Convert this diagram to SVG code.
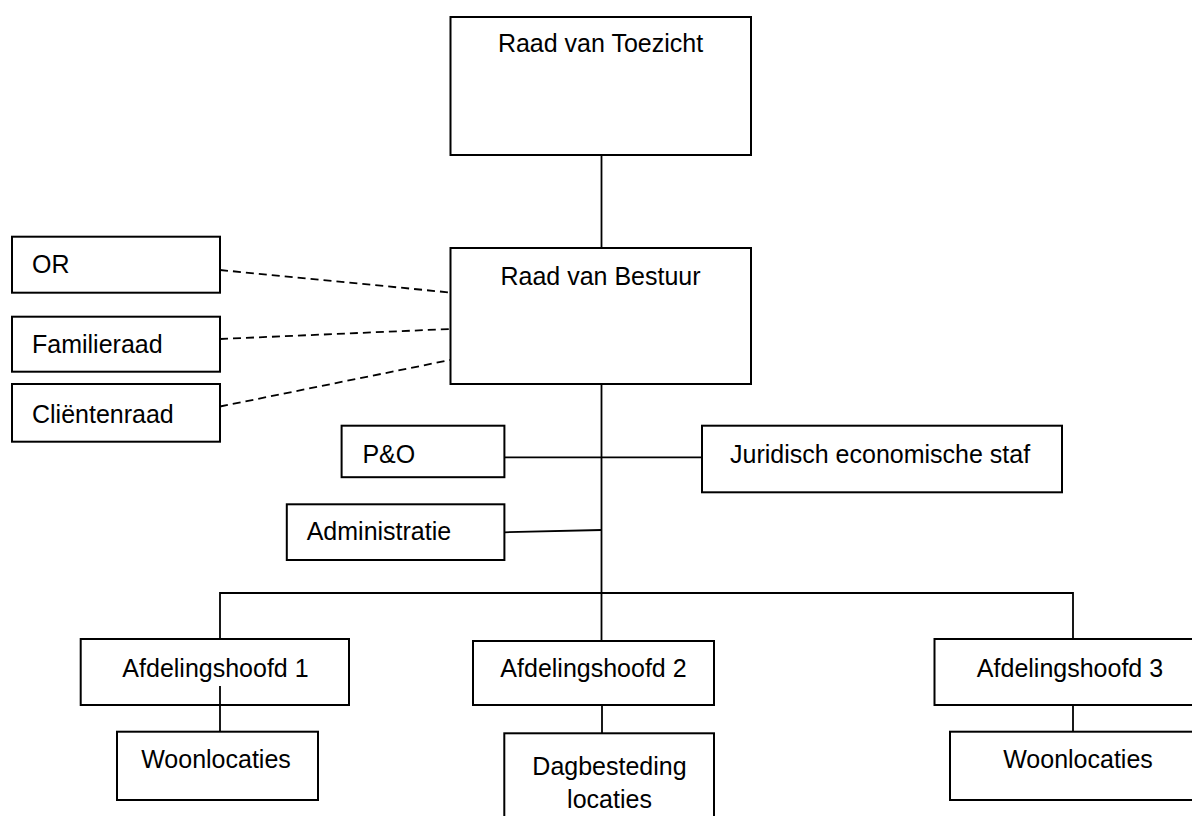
<svg xmlns="http://www.w3.org/2000/svg" width="1192" height="816" viewBox="0 0 1192 816">
<style>
.box{fill:#fff;stroke:#000;stroke-width:2}
.t{font-family:"Liberation Sans",Arial,sans-serif;font-size:25px;fill:#000}
.c{text-anchor:middle}
.ln{stroke:#000;stroke-width:1.8;fill:none}
.dash{stroke:#000;stroke-width:1.8;fill:none;stroke-dasharray:8 5}
</style>
<rect width="1192" height="816" fill="#fff"/>
<g id="connectors">
<line class="ln" x1="601.5" y1="155" x2="601.5" y2="248"/>
<line class="ln" x1="601.5" y1="384" x2="601.5" y2="641"/>
<line class="ln" x1="504" y1="457.3" x2="702" y2="457.3"/>
<line class="ln" x1="504" y1="532.3" x2="601.5" y2="530"/>
<polyline class="ln" points="220,639 220,593 1073,593 1073,639"/>
<line class="ln" x1="602" y1="705" x2="602" y2="733"/>
<line class="ln" x1="1073" y1="705" x2="1073" y2="732"/>
<line class="dash" x1="220" y1="270" x2="450" y2="292.5"/>
<line class="dash" x1="220" y1="339" x2="450" y2="329"/>
<line class="dash" x1="220" y1="406.5" x2="450" y2="360"/>
</g>
<g id="raad-van-toezicht"><rect class="box" x="450.5" y="17" width="300.5" height="138"/><text class="t c" x="600.5" y="52">Raad van Toezicht</text></g>
<g id="raad-van-bestuur"><rect class="box" x="450.5" y="248" width="300.5" height="136"/><text class="t c" x="600.5" y="285">Raad van Bestuur</text></g>
<g id="or"><rect class="box" x="12" y="236.7" width="208" height="56"/><text class="t" x="32" y="273.3">OR</text></g>
<g id="familieraad"><rect class="box" x="12" y="316.7" width="208" height="55"/><text class="t" x="32" y="352.7">Familieraad</text></g>
<g id="clientenraad"><rect class="box" x="12" y="384" width="208" height="57.7"/><text class="t" x="32" y="423">Cliëntenraad</text></g>
<g id="po"><rect class="box" x="341.6" y="425.7" width="162.8" height="51.5"/><text class="t" x="362.4" y="462.5">P&amp;O</text></g>
<g id="juridisch"><rect class="box" x="702" y="425.7" width="360" height="66.6"/><text class="t" x="730" y="462.5">Juridisch economische staf</text></g>
<g id="administratie"><rect class="box" x="286.8" y="504.3" width="217.6" height="55.7"/><text class="t" x="306.7" y="540">Administratie</text></g>
<g id="afd1"><rect class="box" x="80.7" y="639" width="268.3" height="66"/><text class="t c" x="215.5" y="676.7">Afdelingshoofd 1</text></g>
<line class="ln" x1="220" y1="686" x2="220" y2="732"/>
<g id="afd2"><rect class="box" x="473" y="641" width="241" height="64"/><text class="t c" x="593.5" y="676.7">Afdelingshoofd 2</text></g>
<g id="afd3"><rect class="box" x="934.5" y="639" width="270" height="66"/><text class="t c" x="1070" y="676.7">Afdelingshoofd 3</text></g>
<g id="woonlocaties1"><rect class="box" x="117" y="731.7" width="201" height="68.3"/><text class="t c" x="216" y="768">Woonlocaties</text></g>
<g id="dagbesteding"><rect class="box" x="504.3" y="733.3" width="209.7" height="100"/><text class="t c" x="609.5" y="775">Dagbesteding</text><text class="t c" x="609.5" y="808">locaties</text></g>
<g id="woonlocaties3"><rect class="box" x="950" y="731.7" width="260" height="68.3"/><text class="t c" x="1078" y="768">Woonlocaties</text></g>
</svg>
